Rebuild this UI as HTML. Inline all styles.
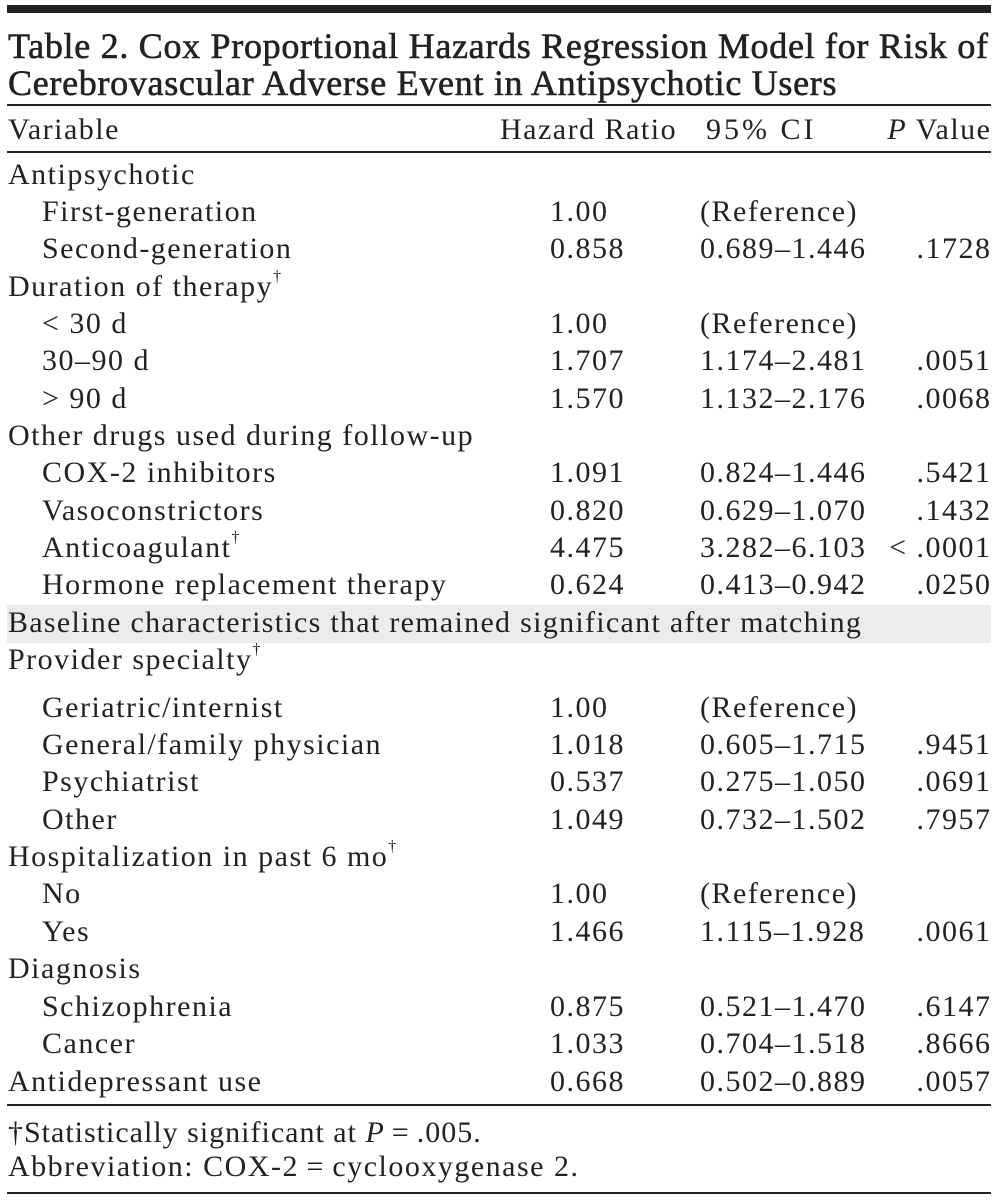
<!DOCTYPE html>
<html><head><meta charset="utf-8"><style>
body{margin:0;width:997px;height:1202px;background:#fff;position:relative;font-family:"Liberation Serif",serif;color:#222;overflow:hidden}
.r{position:absolute;left:0;width:997px;height:38px;line-height:38px;font-size:30px;letter-spacing:1.5px}
.r span{position:absolute;white-space:nowrap}
.a{left:8px}.b{left:42px}
.h{left:550px}.c{left:700px}.p{right:5.5px}
.rule{position:absolute;left:7px;width:984px;background:#222}
.t{position:absolute;left:8px;font-size:36px;letter-spacing:0.7px;line-height:36px;white-space:nowrap;-webkit-text-stroke:0.6px #222}
sup{font-size:16px;vertical-align:top;line-height:20px;position:relative;top:-1px;letter-spacing:0}
</style></head><body>
<div class="rule" style="top:5px;height:8px"></div>
<div class="t" style="top:28px">Table 2. Cox Proportional Hazards Regression Model for Risk of</div>
<div class="t" style="top:65px">Cerebrovascular Adverse Event in Antipsychotic Users</div>
<div class="rule" style="top:104px;height:2px"></div>
<div class="r" style="top:111px"><span class="a">Variable</span><span style="left:500px">Hazard Ratio</span><span style="left:706px;letter-spacing:3px">95% CI</span><span class="p"><i>P</i> Value</span></div>
<div class="rule" style="top:151px;height:2px"></div>
<div style="position:absolute;left:7px;width:984px;top:605px;height:38px;background:#ececec"></div>

<div class="r" style="top:156px"><span class="a">Antipsychotic</span></div>
<div class="r" style="top:193px"><span class="b">First-generation</span><span class="h">1.00</span><span class="c">(Reference)</span></div>
<div class="r" style="top:230px"><span class="b">Second-generation</span><span class="h">0.858</span><span class="c">0.689–1.446</span><span class="p">.1728</span></div>
<div class="r" style="top:268px"><span class="a">Duration of therapy<sup>†</sup></span></div>
<div class="r" style="top:305px"><span class="b">&lt; 30 d</span><span class="h">1.00</span><span class="c">(Reference)</span></div>
<div class="r" style="top:342px"><span class="b">30–90 d</span><span class="h">1.707</span><span class="c">1.174–2.481</span><span class="p">.0051</span></div>
<div class="r" style="top:380px"><span class="b">&gt; 90 d</span><span class="h">1.570</span><span class="c">1.132–2.176</span><span class="p">.0068</span></div>
<div class="r" style="top:417px"><span class="a">Other drugs used during follow-up</span></div>
<div class="r" style="top:454px"><span class="b">COX-2 inhibitors</span><span class="h">1.091</span><span class="c">0.824–1.446</span><span class="p">.5421</span></div>
<div class="r" style="top:492px"><span class="b">Vasoconstrictors</span><span class="h">0.820</span><span class="c">0.629–1.070</span><span class="p">.1432</span></div>
<div class="r" style="top:529px"><span class="b">Anticoagulant<sup>†</sup></span><span class="h">4.475</span><span class="c">3.282–6.103</span><span class="p">&lt; .0001</span></div>
<div class="r" style="top:566px"><span class="b">Hormone replacement therapy</span><span class="h">0.624</span><span class="c">0.413–0.942</span><span class="p">.0250</span></div>
<div class="r" style="top:604px"><span class="a" style="letter-spacing:1.3px">Baseline characteristics that remained significant after matching</span></div>
<div class="r" style="top:641px"><span class="a">Provider specialty<sup>†</sup></span></div>
<div class="r" style="top:689px"><span class="b">Geriatric/internist</span><span class="h">1.00</span><span class="c">(Reference)</span></div>
<div class="r" style="top:726px"><span class="b">General/family physician</span><span class="h">1.018</span><span class="c">0.605–1.715</span><span class="p">.9451</span></div>
<div class="r" style="top:763px"><span class="b">Psychiatrist</span><span class="h">0.537</span><span class="c">0.275–1.050</span><span class="p">.0691</span></div>
<div class="r" style="top:801px"><span class="b">Other</span><span class="h">1.049</span><span class="c">0.732–1.502</span><span class="p">.7957</span></div>
<div class="r" style="top:838px"><span class="a">Hospitalization in past 6 mo<sup>†</sup></span></div>
<div class="r" style="top:875px"><span class="b">No</span><span class="h">1.00</span><span class="c">(Reference)</span></div>
<div class="r" style="top:913px"><span class="b">Yes</span><span class="h">1.466</span><span class="c">1.115–1.928</span><span class="p">.0061</span></div>
<div class="r" style="top:950px"><span class="a">Diagnosis</span></div>
<div class="r" style="top:988px"><span class="b">Schizophrenia</span><span class="h">0.875</span><span class="c">0.521–1.470</span><span class="p">.6147</span></div>
<div class="r" style="top:1025px"><span class="b">Cancer</span><span class="h">1.033</span><span class="c">0.704–1.518</span><span class="p">.8666</span></div>
<div class="r" style="top:1063px"><span class="a">Antidepressant use</span><span class="h">0.668</span><span class="c">0.502–0.889</span><span class="p">.0057</span></div>
<div class="rule" style="top:1104px;height:2px"></div>
<div class="r" style="top:1114px"><span class="a" style="letter-spacing:1px">†Statistically significant at <i>P</i>&#8201;=&#8201;.005.</span></div>
<div class="r" style="top:1148px"><span class="a">Abbreviation: COX-2&#8201;=&#8201;cyclooxygenase 2.</span></div>
<div class="rule" style="top:1192px;height:2px"></div>
</body></html>
